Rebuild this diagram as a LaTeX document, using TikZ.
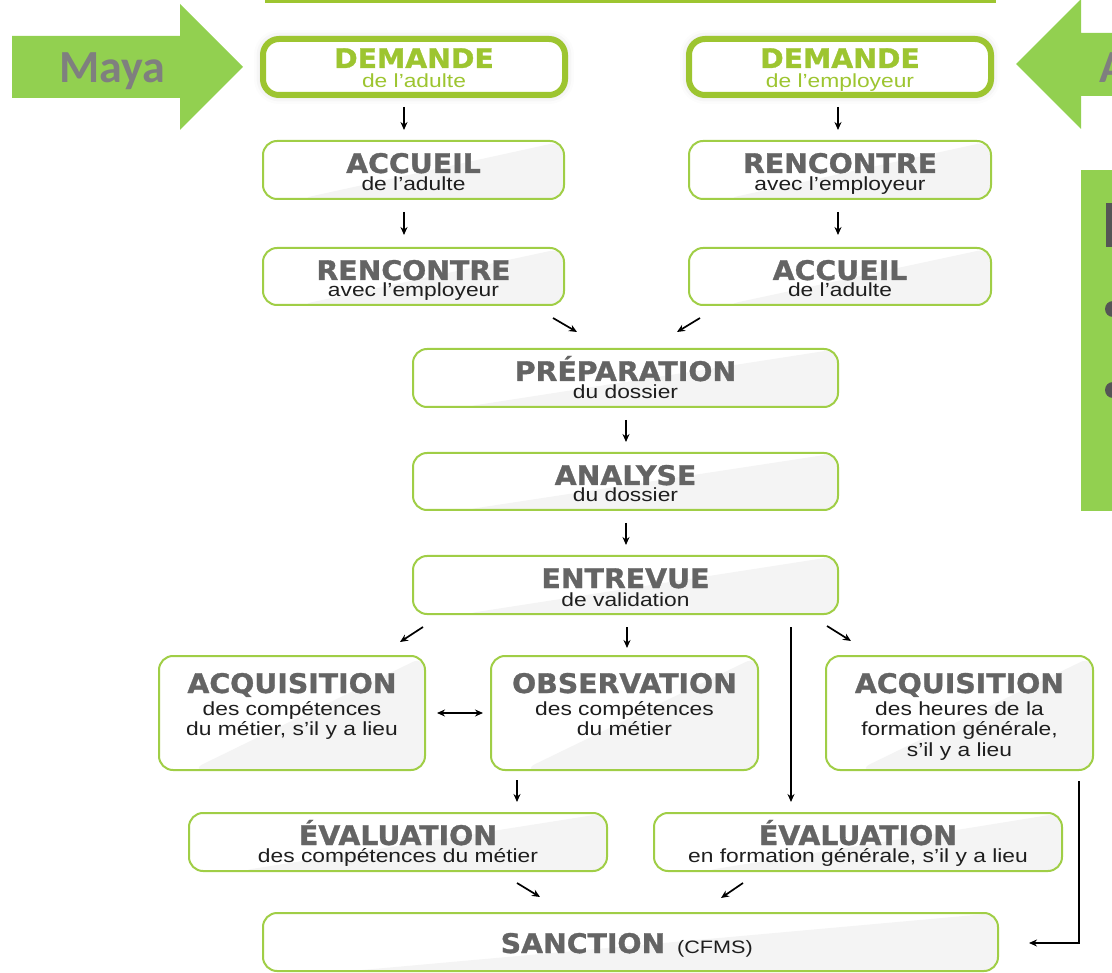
\documentclass[tikz,border=0pt]{standalone}
\usepackage{fontspec}
\usetikzlibrary{arrows.meta,calc,shadows.blur}

\newfontfamily\headfont{DejaVu Sans}[UprightFont=* Bold, FakeStretch=1.05, FakeBold=1.2]
\newfontfamily\subfont{Liberation Sans}[FakeStretch=1.2]
\newfontfamily\namefont{Carlito}[UprightFont=* Bold]

\definecolor{arrowgreen}{RGB}{146,208,80}
\definecolor{demgreen}{RGB}{157,197,48}
\definecolor{edgegreen}{RGB}{160,206,70}
\definecolor{headgray}{RGB}{100,100,100}
\definecolor{namegray}{RGB}{127,127,127}
\definecolor{subblack}{RGB}{30,30,30}
\definecolor{shadegray}{RGB}{244,244,244}
\definecolor{darkmark}{RGB}{85,85,85}

\tikzset{
  thinbox/.style={draw=edgegreen, line width=2pt, rounded corners=14pt, fill=white,
    path picture={\fill[shadegray]
      ($(path picture bounding box.south west)!0.12!(path picture bounding box.south east)$)
      -- (path picture bounding box.north east) -- (path picture bounding box.south east) -- cycle;}},
  thickbox/.style={draw=demgreen, line width=6pt, rounded corners=16pt, fill=white,
    blur shadow={shadow xshift=0pt, shadow yshift=0pt, shadow blur radius=9pt, shadow opacity=18}},
  ttl/.style={anchor=base, inner sep=0pt, text height=20pt, text depth=0pt, text=headgray,
    font=\headfont\fontsize{27}{27}\selectfont},
  sub/.style={anchor=base, inner sep=0pt, text height=13pt, text depth=3pt, text=subblack,
    font=\subfont\fontsize{19}{19}\selectfont},
  flow/.style={draw=black, line width=1.7pt, -{Stealth[length=8pt,width=7pt]}},
  bigarrow/.style={fill=arrowgreen, draw=none},
}

\begin{document}
\begin{tikzpicture}[x=1pt,y=-1pt]
\useasboundingbox (0,0) rectangle (1112,973);

% edge of the panel above
\draw[demgreen, line width=3pt] (265,1.5) -- (996,1.5);

% incoming block arrows
\fill[bigarrow] (12,36) -- (180,36) -- (180,4) -- (243,67) -- (180,130) -- (180,98) -- (12,98) -- cycle;
\node[anchor=base, inner sep=0pt, text=namegray, font=\namefont\fontsize{46}{46}\selectfont] (maya) at (112,83) {Maya};
\fill[bigarrow] (1125,33) -- (1081,33) -- (1081,-1) -- (1016,64) -- (1081,129) -- (1081,96) -- (1125,96) -- cycle;
\node[anchor=base west, inner sep=0pt, text=namegray, font=\namefont\fontsize{46}{46}\selectfont] (other) at (1099,83) {A};

% side panel
\fill[arrowgreen] (1081,170) rectangle (1125,511);
\fill[darkmark] (1106,203) rectangle (1125,247);
\fill[darkmark] (1113,309) circle (8);
\fill[darkmark] (1113,390) circle (8);

% requests
\node[thickbox, minimum width=302pt, minimum height=56pt] (dl) at (414,67) {};
\node[ttl, text=demgreen] (dl-t) at (414,68) {DEMANDE};
\node[sub, text=demgreen] (dl-s) at (414,88) {de l’adulte};
\node[thickbox, minimum width=302pt, minimum height=56pt] (de) at (840,67) {};
\node[ttl, text=demgreen] (de-t) at (840,68) {DEMANDE};
\node[sub, text=demgreen] (de-s) at (840,88) {de l’employeur};

% left column
\node[thinbox, minimum width=301pt, minimum height=58pt] (al) at (413.5,170) {};
\node[ttl] (al-t) at (413.5,173) {ACCUEIL};
\node[sub] (al-s) at (413.5,191) {de l’adulte};
\node[thinbox, minimum width=301pt, minimum height=57pt] (rl) at (413.5,276.5) {};
\node[ttl] (rl-t) at (413.5,280) {RENCONTRE};
\node[sub] (rl-s) at (413.5,297) {avec l’employeur};

% right column
\node[thinbox, minimum width=302pt, minimum height=58pt] (rr) at (840,170) {};
\node[ttl] (rr-t) at (840,173) {RENCONTRE};
\node[sub] (rr-s) at (840,191) {avec l’employeur};
\node[thinbox, minimum width=302pt, minimum height=57pt] (ar) at (840,276.5) {};
\node[ttl] (ar-t) at (840,280) {ACCUEIL};
\node[sub] (ar-s) at (840,297) {de l’adulte};

% central steps
\node[thinbox, minimum width=425pt, minimum height=58pt] (prep) at (625.5,378) {};
\node[ttl] (prep-t) at (625.5,381) {PRÉPARATION};
\node[sub] (prep-s) at (625.5,399) {du dossier};
\node[thinbox, minimum width=425pt, minimum height=57pt] (ana) at (625.5,481.5) {};
\node[ttl] (ana-t) at (625.5,485) {ANALYSE};
\node[sub] (ana-s) at (625.5,502) {du dossier};
\node[thinbox, minimum width=425pt, minimum height=58pt] (ent) at (625.5,585) {};
\node[ttl] (ent-t) at (625.5,588) {ENTREVUE};
\node[sub] (ent-s) at (625.5,606) {de validation};

% acquisition / observation
\node[thinbox, minimum width=266pt, minimum height=114pt] (acql) at (292,713) {};
\node[ttl] (acql-t) at (292,693) {ACQUISITION};
\node[sub] (acql-s1) at (292,715) {des compétences};
\node[sub] (acql-s2) at (292,735) {du métier, s’il y a lieu};
\node[thinbox, minimum width=267pt, minimum height=114pt] (obs) at (624.5,713) {};
\node[ttl] (obs-t) at (624.5,693) {OBSERVATION};
\node[sub] (obs-s1) at (624.5,715) {des compétences};
\node[sub] (obs-s2) at (624.5,735) {du métier};
\node[thinbox, minimum width=267pt, minimum height=114pt] (acqr) at (959.5,713) {};
\node[ttl] (acqr-t) at (959.5,693) {ACQUISITION};
\node[sub] (acqr-s1) at (959.5,715) {des heures de la};
\node[sub] (acqr-s2) at (959.5,735) {formation générale,};
\node[sub] (acqr-s3) at (959.5,756) {s’il y a lieu};

% evaluations
\node[thinbox, minimum width=418pt, minimum height=58pt] (evl) at (398,842) {};
\node[ttl] (evl-t) at (398,845) {ÉVALUATION};
\node[sub] (evl-s) at (398,862) {des compétences du métier};
\node[thinbox, minimum width=408pt, minimum height=58pt] (evr) at (858,842) {};
\node[ttl] (evr-t) at (858,845) {ÉVALUATION};
\node[sub] (evr-s) at (858,862) {en formation générale, s’il y a lieu};

% sanction
\node[thinbox, minimum width=735pt, minimum height=58pt] (sanc) at (630.5,942) {};
\node[ttl] (sanc-t) at (583,953) {SANCTION};
\node[sub, anchor=base west, font=\subfont\fontsize{18}{18}\selectfont] (sanc-s) at (677,953) {(CFMS)};

% connector end points
\coordinate (c1a) at (404,107);  \coordinate (c1b) at (404,130);
\coordinate (c2a) at (838,107);  \coordinate (c2b) at (838,130);
\coordinate (c3a) at (404,212);  \coordinate (c3b) at (404,235);
\coordinate (c4a) at (838,212);  \coordinate (c4b) at (838,235);
\coordinate (c5a) at (553,318);  \coordinate (c5b) at (577,332);
\coordinate (c6a) at (700,318);  \coordinate (c6b) at (677,332);
\coordinate (c7a) at (626,420);  \coordinate (c7b) at (626,442);
\coordinate (c8a) at (626,523);  \coordinate (c8b) at (626,545);
\coordinate (c9a) at (423,627);  \coordinate (c9b) at (400,642);
\coordinate (c10a) at (627,627); \coordinate (c10b) at (627,648);
\coordinate (c11a) at (791,627); \coordinate (c11b) at (791,802);
\coordinate (c12a) at (827,626); \coordinate (c12b) at (851,641);
\coordinate (c13a) at (437,713); \coordinate (c13b) at (483,713);
\coordinate (c14a) at (517,780); \coordinate (c14b) at (517,802);
\coordinate (c15a) at (517,883); \coordinate (c15b) at (540,897);
\coordinate (c16a) at (743,883); \coordinate (c16b) at (721,898);
\coordinate (c17a) at (1079,781); \coordinate (c17k) at (1079,943); \coordinate (c17b) at (1029,943);

\draw[flow] (c1a) -- (c1b);
\draw[flow] (c2a) -- (c2b);
\draw[flow] (c3a) -- (c3b);
\draw[flow] (c4a) -- (c4b);
\draw[flow] (c5a) -- (c5b);
\draw[flow] (c6a) -- (c6b);
\draw[flow] (c7a) -- (c7b);
\draw[flow] (c8a) -- (c8b);
\draw[flow] (c9a) -- (c9b);
\draw[flow] (c10a) -- (c10b);
\draw[flow] (c11a) -- (c11b);
\draw[flow] (c12a) -- (c12b);
\draw[flow, {Stealth[length=8pt,width=7pt]}-{Stealth[length=8pt,width=7pt]}] (c13a) -- (c13b);
\draw[flow] (c14a) -- (c14b);
\draw[flow] (c15a) -- (c15b);
\draw[flow] (c16a) -- (c16b);
\draw[flow] (c17a) -- (c17k) -- (c17b);
\end{tikzpicture}
\end{document}
